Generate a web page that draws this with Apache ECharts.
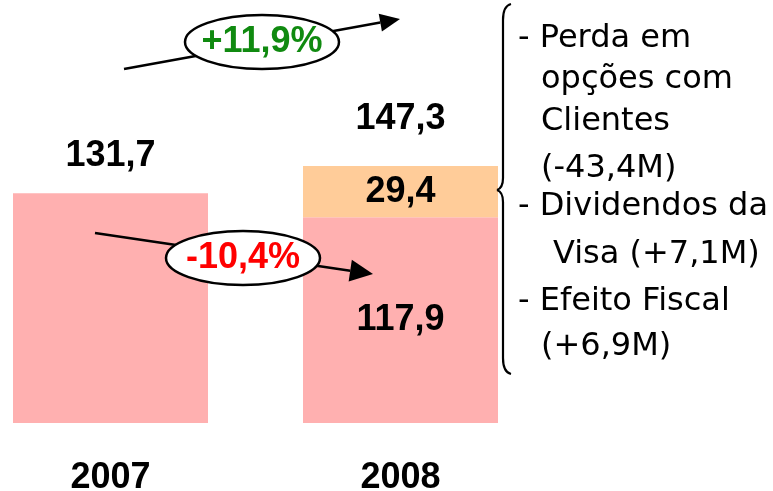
<!DOCTYPE html>
<html>
<head>
<meta charset="utf-8">
<script src="https://cdn.jsdelivr.net/npm/echarts@6/dist/echarts.min.js"></script>
<style>
  html, body { margin: 0; padding: 0; background: #fff; }
  #chart { width: 773px; height: 491px; }
</style>
</head>
<body>
<div id="chart"></div>
<script>
// dados
const years = ['2007', '2008'];
const baseValues = [131.7, 117.9];
const extraValues = [null, 29.4];
const totals = [131.7, 147.3];
const growthTotal = '+11,9%';
const growthBase = '-10,4%';
const notes = [
  '- Perda em',
  'opções com',
  'Clientes',
  '(-43,4M)',
  '- Dividendos da',
  'Visa (+7,1M)',
  '- Efeito Fiscal',
  '(+6,9M)'
];
// posição de cada linha de nota (x, linha de base)
const noteX = [518, 541, 541, 541, 518, 553, 518, 541];
const noteBase = [47, 88, 130, 177, 215, 263, 310, 355];

const fmt = v => v.toFixed(1).replace('.', ',');
const numFont = 'Liberation Sans';

// seta simples: linha + ponta triangular
function arrow(x1, y1, x2, y2, len, half) {
  const dx = x2 - x1, dy = y2 - y1;
  const d = Math.sqrt(dx * dx + dy * dy);
  const ux = dx / d, uy = dy / d;
  const bx = x2 - ux * len, by = y2 - uy * len;
  return [
    { type: 'line', z: 10, shape: { x1: x1, y1: y1, x2: bx, y2: by },
      style: { stroke: '#000', lineWidth: 2.5 } },
    { type: 'polygon', z: 10,
      shape: { points: [[x2, y2], [bx - uy * half, by + ux * half], [bx + uy * half, by - ux * half]] },
      style: { fill: '#000' } }
  ];
}

function bubble(cx, cy, text, color) {
  return [
    { type: 'ellipse', z: 11, shape: { cx: cx, cy: cy, rx: 77, ry: 27 },
      style: { fill: '#fff', stroke: '#000', lineWidth: 2.5 } },
    { type: 'text', z: 12, x: cx, y: cy,
      style: { text: text, fill: color, font: 'bold 36px ' + numFont,
               align: 'center', verticalAlign: 'middle' } }
  ];
}

let graphics = [];
graphics = graphics.concat(arrow(124, 69, 400, 19, 20, 9));
graphics = graphics.concat(bubble(262, 42, growthTotal, '#108a10'));
graphics = graphics.concat(arrow(95, 233, 373, 274, 23, 11));
graphics = graphics.concat(bubble(243, 258, growthBase, '#ff0000'));

// chaveta
const braceStyle = { fill: null, stroke: '#000', lineWidth: 2.2 };
graphics.push(
  { type: 'bezierCurve', z: 10, shape: { x1: 511, y1: 4, cpx1: 503, cpy1: 6, x2: 503, y2: 20 }, style: braceStyle },
  { type: 'line', z: 10, shape: { x1: 503, y1: 20, x2: 503, y2: 178 }, style: braceStyle },
  { type: 'bezierCurve', z: 10, shape: { x1: 503, y1: 178, cpx1: 503, cpy1: 188, x2: 497, y2: 190 }, style: braceStyle },
  { type: 'bezierCurve', z: 10, shape: { x1: 497, y1: 190, cpx1: 503, cpy1: 192, x2: 503, y2: 202 }, style: braceStyle },
  { type: 'line', z: 10, shape: { x1: 503, y1: 202, x2: 503, y2: 358 }, style: braceStyle },
  { type: 'bezierCurve', z: 10, shape: { x1: 503, y1: 358, cpx1: 503, cpy1: 372, x2: 511, y2: 374 }, style: braceStyle }
);

notes.forEach((t, i) => {
  graphics.push({
    type: 'text', z: 10, x: noteX[i], y: noteBase[i] - 8,
    style: { text: t, fill: '#000', font: '32px DejaVu Sans', align: 'left', verticalAlign: 'middle' }
  });
});

const chart = echarts.init(document.getElementById('chart'));
chart.setOption({
  animation: false,
  grid: { left: 110.5, right: 372.5, top: 74, bottom: 68, outerBoundsMode: 'none' },
  xAxis: {
    type: 'category',
    data: years,
    boundaryGap: false,
    axisLine: { show: false },
    axisTick: { show: false },
    axisLabel: { color: '#000', fontSize: 36, fontWeight: 'bold', fontFamily: numFont, margin: 37 }
  },
  yAxis: { type: 'value', min: 0, max: 200, show: false, splitLine: { show: false } },
  series: [
    {
      type: 'bar',
      stack: 'lucro',
      barWidth: 195,
      clip: false,
      itemStyle: { color: '#ffb0b0' },
      data: baseValues.map((v, i) => extraValues[i] ? {
        value: v,
        label: { show: true, position: 'inside', formatter: () => fmt(v) }
      } : {
        value: v,
        label: { show: true, position: 'top', distance: 19, formatter: () => fmt(totals[i]) }
      }),
      label: { color: '#000', fontSize: 36, fontWeight: 'bold', fontFamily: numFont }
    },
    {
      type: 'bar',
      stack: 'lucro',
      barWidth: 195,
      clip: false,
      itemStyle: { color: '#ffcc99' },
      data: extraValues,
      label: { show: true, position: 'inside', color: '#000', fontSize: 36, fontWeight: 'bold',
               fontFamily: numFont, formatter: p => fmt(p.value) }
    },
    {
      // total acima da barra empilhada
      type: 'bar',
      stack: 'lucro',
      barWidth: 195,
      clip: false,
      itemStyle: { color: 'transparent' },
      data: extraValues.map((v, i) => v ? 0 : null),
      label: { show: true, position: 'top', distance: 29, color: '#000', fontSize: 36, fontWeight: 'bold',
               fontFamily: numFont, formatter: p => fmt(totals[p.dataIndex]) }
    }
  ],
  graphic: graphics
});
</script>
</body>
</html>
